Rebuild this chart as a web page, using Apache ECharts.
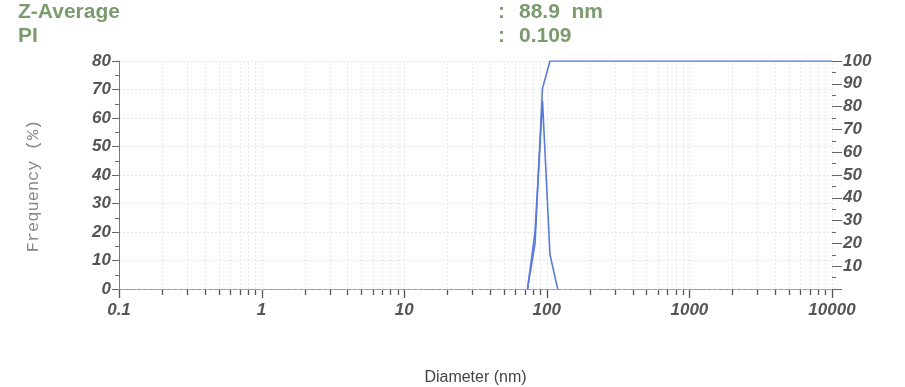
<!DOCTYPE html>
<html>
<head>
<meta charset="utf-8">
<script src="https://cdn.jsdelivr.net/npm/echarts@6/dist/echarts.min.js"></script>
<style>
html,body{margin:0;padding:0;background:#fff;}
#c{width:905px;height:387px;}
</style>
</head>
<body>
<div id="c"></div>
<script>
// ---- data ----
const freqDiameters = [73.2, 82.7, 93.3, 105.3, 119.2];
const frequency = [0, 20, 66, 12, 0];
const cumDiameters = [73.2, 82.7, 93.3, 105.3, 119.2, 10000];
const cumulative = [0, 20, 88, 100, 100, 100];
const xTickValues = [0.1, 1, 10, 100, 1000, 10000];
const xTickLabels = ['0.1', '1', '10', '100', '1000', '10000'];
const headerLabels = ['Z-Average', 'PI'];
const headerValues = ['88.9 nm', '0.109'];

// log ticks at 1..9 per decade (axis decoration)
const tickMarks = [];
for (let d = 0; d < xTickValues.length; d++) {
  const base = xTickValues[d];
  tickMarks.push([base, 1]);
  if (d < xTickValues.length - 1) {
    for (let k = 2; k <= 9; k++) tickMarks.push([base * k, 0]);
  }
}

const labelFont = {color: '#555', fontSize: 17, fontWeight: 'bold', fontStyle: 'italic', fontFamily: 'Liberation Sans, Arial, sans-serif'};
const green = '#7c9b6d';
const blue = '#5a7ad8';
const headFont = 'bold 21px "Liberation Sans", Arial, sans-serif';

const chart = echarts.init(document.getElementById('c'), null, {renderer: 'canvas'});
chart.setOption({
  animation: false,
  grid: {left: 119, right: 73, top: 61, bottom: 98, containLabel: false, outerBoundsMode: 'none'},
  xAxis: [{
    type: 'log', logBase: 10, min: 0.1, max: 10000,
    axisLine: {show: true, onZero: false, lineStyle: {color: '#bbb', type: [2, 3], width: 1}},
    axisTick: {show: false},
    splitLine: {show: false},
    axisLabel: Object.assign({margin: 13, formatter: function (v) {
      const i = xTickValues.findIndex(t => Math.abs(Math.log10(t) - Math.log10(v)) < 1e-6);
      return i >= 0 ? xTickLabels[i] : '';
    }}, labelFont),
    name: 'Diameter (nm)', nameLocation: 'middle', nameGap: 81,
    nameTextStyle: {color: '#444', fontSize: 16, fontFamily: 'Liberation Sans, Arial, sans-serif'}
  }, {
    type: 'log', logBase: 10, min: 0.1, max: 10000, position: 'top',
    axisLine: {show: true, lineStyle: {color: '#999', type: [4, 2], width: 1}},
    axisTick: {show: false}, axisLabel: {show: false}, splitLine: {show: false}
  }],
  yAxis: [{
    type: 'value', min: 0, max: 80, interval: 10, position: 'left',
    axisLine: {show: true, lineStyle: {color: '#777', width: 1}},
    axisTick: {show: true, length: 7, lineStyle: {color: '#666'}},
    minorTick: {show: true, splitNumber: 2, length: 4, lineStyle: {color: '#666'}},
    splitLine: {show: true, lineStyle: {color: '#e4e4e4', type: [2, 2]}},
    axisLabel: Object.assign({margin: 8}, labelFont)
  }, {
    type: 'value', min: 0, max: 100, interval: 10, position: 'right',
    axisLine: {show: false},
    axisTick: {show: true, length: 10, lineStyle: {color: '#666'}},
    minorTick: {show: true, splitNumber: 2, length: 4, lineStyle: {color: '#666'}},
    splitLine: {show: false},
    axisLabel: Object.assign({margin: 11, showMinLabel: false, formatter: function (v) { return v === 0 ? '' : String(v); }}, labelFont)
  }],
  series: [{
    type: 'line', xAxisIndex: 0, yAxisIndex: 0, symbol: 'none', z: 5,
    lineStyle: {color: blue, width: 1.6},
    data: freqDiameters.map((d, i) => [d, frequency[i]])
  }, {
    type: 'line', xAxisIndex: 0, yAxisIndex: 1, symbol: 'none', z: 5,
    lineStyle: {color: blue, width: 1.6},
    data: cumDiameters.map((d, i) => [d, cumulative[i]])
  }]
});

// graphics: header text, y-axis title, and log grid/ticks placed through the axis scale
const graphics = [
  {type: 'text', left: 18, top: 2, style: {text: headerLabels[0], fill: green, font: headFont}},
  {type: 'text', left: 18, top: 26, style: {text: headerLabels[1], fill: green, font: headFont}},
  {type: 'text', left: 498, top: 2, style: {text: ':', fill: green, font: headFont}},
  {type: 'text', left: 498, top: 26, style: {text: ':', fill: green, font: headFont}},
  {type: 'text', left: 519, top: 2, style: {text: headerValues[0].replace(' ', '  '), fill: green, font: headFont}},
  {type: 'text', left: 519, top: 26, style: {text: headerValues[1], fill: green, font: headFont}},
  {type: 'text', x: 33, y: 186, rotation: Math.PI / 2, style: {text: 'Frequency (%)', fill: '#888', font: '17px "Liberation Mono", "DejaVu Sans Mono", monospace', align: 'center', verticalAlign: 'middle'}}
];
const tickChildren = [];
const gridChildren = [];
tickMarks.forEach(function (t) {
  const p0 = chart.convertToPixel({xAxisIndex: 0, yAxisIndex: 0}, [t[0], 0]);
  const p1 = chart.convertToPixel({xAxisIndex: 0, yAxisIndex: 0}, [t[0], 80]);
  const px = Math.round(p0[0]) + 0.5;
  const py = Math.round(p0[1]);
  gridChildren.push({type: 'line', shape: {x1: px, y1: py, x2: px, y2: p1[1]}, style: {stroke: '#e6e6e6', lineDash: [2, 2], lineWidth: 1}});
  tickChildren.push({type: 'line', shape: {x1: px, y1: py + 1, x2: px, y2: py + 1 + (t[1] ? 8 : 5)}, style: {stroke: '#555', lineWidth: 1.3}});
});
graphics.push({type: 'group', z: 0, silent: true, children: gridChildren});
graphics.push({type: 'group', z: 100, silent: true, children: tickChildren});
chart.setOption({graphic: graphics});
</script>
</body>
</html>
